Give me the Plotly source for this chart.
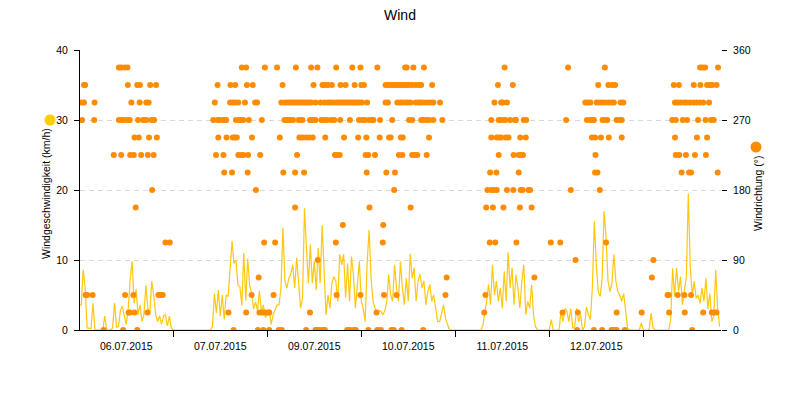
import plotly.graph_objects as go

# ---------------- data ----------------
title_text = "Wind"
y1_title = "Windgeschwindigkeit (km/h)"
y2_title = "Windrichtung (°)"
date_labels = ["06.07.2015", "07.07.2015", "09.07.2015", "10.07.2015", "11.07.2015", "12.07.2015"]
label_hours = [12, 36, 60, 84, 108, 132]
day_bounds = [24, 48, 72, 96, 120, 144]
sample_step_h = 0.5

# wind speed (km/h), one value per half hour, per day
speed_day1 = [3.6, 3.6, 8.6, 6.0, 0.3, 0.2, 0.2, 3.8, 0, 0, 0, 0, 0, 2.0, 0, 0, 0, 0.3, 3.9, 0.4,
              0.5, 2.8, 3.4, 2.0, 0.8, 3.1, 7.3, 9.8, 3.8, 5.8, 2.2, 3.6, 1.2, 2.2, 6.4, 3.1, 2.2, 7.0,
              5.0, 2.2, 1.2, 2.0, 0.8, 2.0, 2.2, 0.6, 2.0, 0.3]
speed_day2 = [0] * 20 + [0.5, 5.2, 2.4, 5.7, 2.0, 5.0, 1.5, 5.0, 4.8, 8.6, 12.7, 9.5, 10.0, 6.4, 6.2,
                         3.5, 11.0, 4.2, 10.2, 6.4, 5.3, 3.0, 4.0, 2.8, 5.6, 2.6, 3.6, 1.8]
speed_day3 = [2.2, 3.0, 0.8, 2.2, 3.0, 3.6, 3.6, 6.0, 14.6, 7.0, 6.0, 7.4, 8.0, 9.3, 6.0, 10.3, 6.7,
              3.1, 4.5, 17.4, 11.7, 6.7, 12.2, 6.7, 9.8, 5.7, 11.7, 6.7, 15.0, 7.6, 2.2, 5.0, 3.1,
              6.7, 7.6, 7.0, 4.1, 10.8, 9.3, 10.8, 4.6, 9.5, 4.1, 10.5, 7.9, 3.1, 6.7, 9.8]
speed_day4 = [4.1, 3.1, 1.2, 9.6, 14.3, 7.4, 4.1, 3.1, 2.2, 2.7, 2.7, 2.2, 2.7, 4.0, 7.9, 5.0, 4.1,
              9.3, 6.0, 4.1, 9.8, 6.0, 3.6, 7.4, 4.1, 10.9, 7.4, 8.9, 4.1, 7.0, 8.0, 6.0, 7.0, 3.6,
              5.5, 6.5, 4.1, 5.0, 3.1, 1.2, 1.2, 2.2, 3.6, 1.7, 0.8, 0, 0, 0]
speed_day5 = [0] * 14 + [0.5, 2.2, 4.1, 6.5, 3.6, 9.3, 5.0, 7.0, 4.1, 6.0, 3.1, 8.4, 4.1, 11.1, 6.0,
                         8.9, 3.6, 7.9, 6.0, 3.1, 7.0, 9.3, 2.2, 4.1, 3.1, 6.5, 2.0, 0.5, 0, 0, 0, 0, 0, 0]
speed_day6 = [0, 1.5, 0, 0, 0, 0, 2.7, 1.2, 3.1, 2.7, 1.2, 3.1, 0.3, 0.5, 3.1, 1.2, 2.2, 0, 0.5, 3.3,
              2.2, 1.5, 6.0, 15.5, 9.5, 5.5, 4.8, 7.4, 17.0, 13.3, 7.0, 5.5, 6.7, 10.8, 7.0, 5.5, 5.0,
              4.1, 5.2, 2.6, 0.3, 0, 0, 0, 0, 0, 0, 1.0]
speed_day7 = [0, 0, 0, 0, 2.4, 0.3, 0, 0, 0, 0, 0, 0, 0, 0, 1.5, 8.8, 4.8, 8.9, 5.5, 7.6, 3.6, 5.5,
              7.6, 19.5, 9.0, 5.0, 7.0, 4.5, 5.0, 3.8, 6.0, 4.1, 7.4, 3.0, 5.2, 1.2, 2.0, 8.6, 3.0, 0.5]

# wind direction readings: hours (since start) for each direction value (deg)
dir_337 = [10.1, 10.7, 11.6, 12.3, 41.5, 42.6, 47.4, 50.5, 55.3, 59.2, 60.8, 65.6, 69.7, 71.8, 76.1,
           83.2, 83.6, 85.3, 88.0, 108.6, 124.8, 134.2, 158.5, 159.1, 159.8, 163.1]
dir_315 = [1.2, 1.5, 12.4, 14.8, 15.5, 18.1, 19.6, 35.3, 38.6, 39.8, 42.8, 44.3, 51.9, 59.8, 62.1,
           62.7, 63.5, 64.5, 66.7, 68.0, 70.3, 72.0, 72.7, 78.2, 78.8, 79.4, 80.0, 80.6, 81.2, 81.8,
           82.4, 83.0, 83.6, 84.2, 85.0, 85.9, 86.7, 87.3, 90.1, 106.9, 110.7, 132.5, 135.1, 136.1,
           136.8, 151.8, 153.1, 156.9, 158.6, 160.3, 161.0, 161.6, 162.7]
dir_292 = [0.5, 1.2, 3.9, 13.3, 15.4, 17.1, 17.7, 34.6, 38.5, 39.2, 39.8, 40.6, 42.3, 44.9, 45.4,
           51.6, 52.6, 53.2, 53.8, 54.4, 55.0, 55.6, 56.2, 56.8, 57.4, 58.0, 58.6, 59.2, 60.3, 61.6,
           62.6, 63.4, 64.0, 64.7, 65.6, 66.2, 66.8, 67.4, 68.0, 68.6, 69.2, 69.8, 70.4, 71.0, 71.6,
           72.2, 73.5, 78.2, 78.8, 81.2, 81.9, 82.5, 83.3, 83.9, 84.6, 85.9, 86.7, 87.3, 88.0, 88.9,
           89.7, 90.4, 92.1, 106.0, 107.7, 108.1, 109.2, 129.2, 129.9, 130.5, 132.1, 132.8, 133.4,
           134.2, 135.1, 135.9, 136.5, 138.2, 138.9, 152.1, 152.7, 153.5, 154.4, 155.1, 155.9,
           156.8, 157.6, 158.5, 159.3, 160.8]
dir_270 = [0.7, 3.8, 10.1, 10.5, 10.9, 11.4, 12.3, 12.9, 15.0, 16.3, 16.7, 17.1, 18.4, 19.1, 34.2,
           35.3, 35.9, 36.8, 37.5, 40.0, 40.6, 41.2, 41.9, 43.3, 46.6, 52.4, 52.9, 53.5, 54.1, 54.6,
           56.0, 56.5, 57.0, 58.9, 59.6, 60.3, 61.8, 62.6, 63.2, 64.3, 65.1, 66.6, 69.1, 71.4, 72.3,
           72.9, 74.0, 74.6, 75.1, 76.8, 79.9, 84.2, 85.0, 87.3, 88.0, 88.7, 89.3, 90.4, 92.7, 105.2,
           107.1, 107.7, 108.4, 108.8, 110.0, 111.2, 111.5, 113.5, 114.1, 124.3, 129.6, 130.5,
           130.8, 131.4, 133.6, 134.2, 134.8, 137.2, 137.9, 138.5, 151.4, 152.3, 154.1, 155.2,
           158.0, 159.9, 161.3, 162.0]
dir_247 = [14.1, 15.2, 17.8, 19.8, 35.5, 37.6, 39.2, 39.7, 40.2, 44.1, 51.2, 56.2, 57.0, 57.9, 58.7,
           59.6, 62.8, 67.6, 71.2, 73.3, 76.7, 79.1, 79.5, 82.1, 82.6, 89.3, 105.2, 106.6, 107.2,
           107.7, 108.9, 109.6, 112.6, 114.0, 130.9, 131.7, 133.2, 135.2, 138.5, 152.1, 157.7, 160.3]
dir_225 = [8.8, 10.7, 13.0, 13.9, 15.8, 17.5, 19.0, 34.9, 36.8, 40.6, 41.3, 41.9, 43.1, 46.2, 55.6,
           65.3, 65.8, 66.5, 73.1, 73.8, 75.5, 81.6, 82.5, 85.0, 85.6, 86.3, 88.7, 107.1, 110.9,
           112.2, 112.8, 113.3, 131.8, 152.3, 153.2, 154.9, 157.2, 160.0]
dir_202 = [37.0, 39.0, 43.0, 52.1, 55.1, 57.4, 73.4, 78.4, 80.6, 104.9, 106.5, 112.2, 131.7, 132.3,
           153.8, 155.7, 156.2, 163.0]
dir_180 = [18.6, 45.1, 80.4, 104.2, 105.2, 105.8, 106.6, 109.2, 110.8, 112.7, 113.2, 114.7, 115.1,
           125.5, 132.9]
dir_157 = [14.4, 55.1, 74.1, 84.6, 103.9, 105.6, 108.3, 112.5, 115.5]
dir_135 = [67.3, 77.6]
dir_112 = [22.0, 23.1, 47.2, 50.0, 65.5, 77.5, 104.8, 106.2, 111.6, 120.4, 122.8, 134.5]
dir_90 = [60.9, 126.7, 146.6]
dir_67 = [45.8, 93.8, 116.2, 146.2]
dir_45 = [1.6, 2.0, 3.4, 11.7, 13.8, 20.2, 20.9, 21.3, 44.0, 49.6, 65.7, 71.8, 77.8, 81.0, 93.5,
          103.7, 150.2, 150.5, 152.8, 154.5, 156.2]
dir_22 = [12.6, 12.9, 14.1, 17.4, 38.1, 42.6, 46.0, 46.6, 47.2, 47.9, 48.5, 58.9, 75.9, 103.4,
          123.4, 127.3, 137.2, 143.6, 150.6, 154.6, 159.3, 161.5, 162.1, 162.7]
dir_0 = [6.2, 11.2, 14.8, 39.4, 45.6, 47.0, 48.5, 50.9, 51.7, 57.9, 60.3, 60.9, 61.5, 62.3, 62.7,
         68.4, 69.1, 70.0, 70.6, 73.8, 76.1, 77.0, 79.7, 80.3, 82.3, 87.8, 127.1, 131.4, 133.5,
         135.9, 136.5, 137.2, 139.3, 156.5]

direction_values = [337.5, 315, 292.5, 270, 247.5, 225, 202.5, 180, 157.5, 135, 112.5, 90, 67.5, 45, 22.5, 0]
direction_times = [dir_337, dir_315, dir_292, dir_270, dir_247, dir_225, dir_202, dir_180, dir_157,
                   dir_135, dir_112, dir_90, dir_67, dir_45, dir_22, dir_0]

# ---------------- build ----------------
speed = speed_day1 + speed_day2 + speed_day3 + speed_day4 + speed_day5 + speed_day6 + speed_day7
speed_hours = [i * sample_step_h for i in range(len(speed))]

dir_x, dir_y = [], []
for deg, times in zip(direction_values, direction_times):
    for t in times:
        dir_x.append(t)
        dir_y.append(deg)

FONT = "Liberation Sans, Arial, sans-serif"
SPEED_COLOR = "rgba(255,196,0,0.95)"
DIR_COLOR = "#FF8C00"

fig = go.Figure()
fig.add_trace(go.Scatter(x=speed_hours, y=speed, mode="lines",
                         line=dict(color=SPEED_COLOR, width=1.2),
                         name="Windgeschwindigkeit", yaxis="y"))
fig.add_trace(go.Scatter(x=dir_x, y=dir_y, mode="markers",
                         marker=dict(color=DIR_COLOR, size=6, line=dict(width=0)),
                         name="Windrichtung", yaxis="y2"))

# page has an 8px body margin: figure spans page px 8..800, 8..400
OFF = 8
W, H = 800 - OFF, 400 - OFF
# plot area in page px: x 80..721, y 50..330
L, R, T, B = 80, 721, 50, 330
def px(xp):
    return (xp - L) / (R - L)
def py(yp):
    return (B - yp) / (B - T)

fig.update_layout(
    width=W, height=H,
    margin=dict(l=L - OFF, r=800 - R, t=T - OFF, b=400 - B, pad=0),
    paper_bgcolor="white", plot_bgcolor="white",
    showlegend=False,
    font=dict(family=FONT, size=11, color="#000000"),
    title=dict(text=title_text, x=(400 - OFF) / W, xanchor="center", y=1 - (15 - OFF) / H,
               yanchor="middle", yref="container",
               font=dict(size=14, family=FONT, color="#000000")),
    xaxis=dict(range=[0.18, 163.85], showline=True, linecolor="#000000", linewidth=1,
               tickmode="array", tickvals=label_hours, ticktext=date_labels, ticks="",
               showgrid=False, zeroline=False, tickfont=dict(size=10.5), ticklabelstandoff=6,
               minor=dict(tickmode="array", tickvals=day_bounds, ticks="outside", ticklen=6,
                          tickcolor="#000000", tickwidth=1, showgrid=False)),
    yaxis=dict(range=[0, 40], tickvals=[0, 10, 20, 30, 40], showline=True, linecolor="#000000",
               linewidth=1, ticks="outside", ticklen=5, tickcolor="#000000",
               showgrid=True, gridcolor="#D9D9D9", griddash="5px,4px", gridwidth=1,
               zeroline=False, tickfont=dict(size=10.5), ticklabelstandoff=4),
    yaxis2=dict(range=[0, 360], tickvals=[0, 90, 180, 270, 360], overlaying="y", side="right",
                showline=False, ticks="outside", ticklen=5, tickcolor="#000000",
                showgrid=False, zeroline=False, tickfont=dict(size=10.5), ticklabelstandoff=4),
)

fig.add_annotation(text=y1_title, xref="paper", yref="paper", x=px(46), y=py(194),
                   textangle=-90, showarrow=False, xanchor="center", yanchor="middle",
                   font=dict(size=10.5, family=FONT, color="#000000"))
fig.add_annotation(text=y2_title, xref="paper", yref="paper", x=px(758), y=py(194),
                   textangle=-90, showarrow=False, xanchor="center", yanchor="middle",
                   font=dict(size=10.5, family=FONT, color="#000000"))
# legend-like dots beside the axis titles
fig.add_shape(type="circle", xref="paper", yref="paper", x0=px(44.5), x1=px(55.5),
              y0=py(125.5), y1=py(114.5), fillcolor="#FFCC00", line=dict(width=0))
fig.add_shape(type="circle", xref="paper", yref="paper", x0=px(750.5), x1=px(761.5),
              y0=py(152.5), y1=py(141.5), fillcolor=DIR_COLOR, line=dict(width=0))

fig.write_html("out.html")
